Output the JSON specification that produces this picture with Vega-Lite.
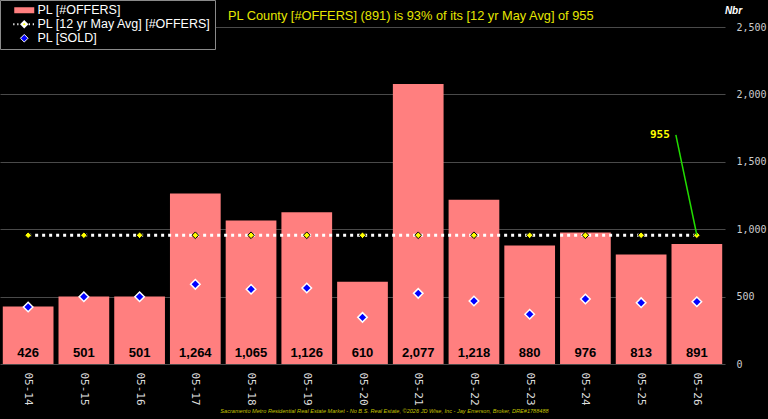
{
  "$schema": "https://vega.github.io/schema/vega-lite/v6.json",
  "width": 725,
  "height": 337,
  "autosize": {"type": "none"},
  "padding": {"left": 0, "top": 27, "right": 43, "bottom": 55},
  "background": "#000000",
  "title": {
    "text": "PL County [#OFFERS] (891) is 93% of its [12 yr May Avg] of 955",
    "anchor": "start",
    "frame": "group",
    "dx": 228,
    "dy": 29,
    "offset": 6,
    "color": "#e6e600",
    "font": "Liberation Sans",
    "fontSize": 12.8,
    "fontWeight": "normal"
  },
  "config": {
    "view": {"stroke": null},
    "axis": {"gridColor": "#4a4a4a", "gridWidth": 1},
    "axisY": {
      "grid": true,
      "domain": false,
      "ticks": false,
      "labelFont": "DejaVu Sans Mono",
      "labelFontSize": 10,
      "labelColor": "#cccccc",
      "labelPadding": 11,
      "labelAlign": "left",
      "titleAngle": 0,
      "titleX": 8,
      "titleY": -17,
      "titleAlign": "center",
      "titleBaseline": "middle",
      "titleFont": "Liberation Sans",
      "titleFontSize": 10,
      "titleFontStyle": "italic",
      "titleFontWeight": "bold",
      "titleColor": "#ffffff"
    }
  },
  "data": {
    "values": [
      {"month": "05-14", "offers": 426, "sold": 423, "avg": 955},
      {"month": "05-15", "offers": 501, "sold": 499, "avg": 955},
      {"month": "05-16", "offers": 501, "sold": 499, "avg": 955},
      {"month": "05-17", "offers": 1264, "sold": 591, "avg": 955},
      {"month": "05-18", "offers": 1065, "sold": 554, "avg": 955},
      {"month": "05-19", "offers": 1126, "sold": 564, "avg": 955},
      {"month": "05-20", "offers": 610, "sold": 346, "avg": 955},
      {"month": "05-21", "offers": 2077, "sold": 524, "avg": 955},
      {"month": "05-22", "offers": 1218, "sold": 467, "avg": 955},
      {"month": "05-23", "offers": 880, "sold": 369, "avg": 955},
      {"month": "05-24", "offers": 976, "sold": 482, "avg": 955},
      {"month": "05-25", "offers": 813, "sold": 455, "avg": 955},
      {"month": "05-26", "offers": 891, "sold": 462, "avg": 955}
    ]
  },
  "encoding": {
    "x": {
      "field": "month",
      "type": "ordinal",
      "scale": {"paddingInner": 0.09, "paddingOuter": 0.05},
      "axis": {
        "labelAngle": 90,
        "labelFont": "DejaVu Sans Mono",
        "labelFontSize": 11,
        "labelColor": "#dddddd",
        "labelPadding": 8,
        "ticks": false,
        "domain": false,
        "title": "Sacramento Metro Residential Real Estate Market - No B.S. Real Estate, ©2026 JD Wise, Inc - Jay Emerson, Broker, DRE#1788488",
        "titleFont": "Liberation Sans",
        "titleFontSize": 5.6,
        "titleFontStyle": "italic",
        "titleFontWeight": "normal",
        "titleColor": "#c4c400",
        "titleX": 384,
        "titleY": 46,
        "titleAlign": "center",
        "titleBaseline": "middle"
      }
    }
  },
  "layer": [
    {
      "mark": {"type": "bar", "color": "#ff7f7f"},
      "encoding": {
        "y": {
          "field": "offers",
          "type": "quantitative",
          "scale": {"domain": [0, 2500], "nice": false, "zero": true},
          "axis": {"orient": "right", "values": [0, 500, 1000, 1500, 2000, 2500], "format": ",.0f", "title": "Nbr"}
        },
        "color": {
          "datum": "PL [#OFFERS]",
          "scale": {
            "domain": ["PL [#OFFERS]", "PL [12 yr May Avg] [#OFFERS]", "PL [SOLD]"],
            "range": ["#ff7f7f", "#ffff00", "#0000ff"]
          },
          "legend": {
            "title": null,
            "orient": "none",
            "legendX": 0,
            "legendY": -27,
            "fillColor": "#000000",
            "strokeColor": "#8a8a8a",
            "padding": 4,
            "rowPadding": 0,
            "labelColor": "#ffffff",
            "labelFont": "Liberation Sans",
            "labelFontSize": 12.5,
            "labelOffset": 7,
            "labelLimit": 400,
            "symbolOffset": 14,
            "symbolSize": 400,
            "encode": {
              "symbols": {
                "update": {
                  "shape": {"signal": "datum.value === 'PL [#OFFERS]' ? 'M-1,-0.3H1V0.3H-1Z' : (datum.value === 'PL [SOLD]' ? 'M0,-0.38L0.38,0L0,0.38L-0.38,0Z' : 'M-1.1,0h0.12 M-0.7,0h0.12 M0,-0.28L0.28,0L0,0.28L-0.28,0Z M0.45,0h0.12 M0.85,0h0.12')"},
                  "stroke": {"signal": "datum.value === 'PL [#OFFERS]' ? '#ff7f7f' : '#ffffff'"},
                  "strokeWidth": {"signal": "datum.value === 'PL [#OFFERS]' ? 0 : (datum.value === 'PL [SOLD]' ? 1 : 2)"},
                  "size": {"value": 400},
                  "opacity": {"value": 1}
                }
              }
            }
          }
        }
      }
    },
    {
      "mark": {"type": "text", "font": "Liberation Sans", "fontSize": 13, "fontWeight": "bold", "color": "#000000", "baseline": "middle", "dy": -11},
      "encoding": {
        "y": {"datum": 0, "type": "quantitative", "scale": {"domain": [0, 2500], "nice": false, "zero": true}, "axis": {"orient": "right", "values": [0, 500, 1000, 1500, 2000, 2500], "format": ",.0f", "title": "Nbr"}},
        "text": {"field": "offers", "type": "quantitative", "format": ","}
      }
    },
    {
      "mark": {"type": "line", "color": "#ffffff", "strokeWidth": 3, "strokeDash": [3, 4], "strokeCap": "butt"},
      "encoding": {
        "y": {"field": "avg", "type": "quantitative", "scale": {"domain": [0, 2500], "nice": false, "zero": true}, "axis": {"orient": "right", "values": [0, 500, 1000, 1500, 2000, 2500], "format": ",.0f", "title": "Nbr"}}
      }
    },
    {
      "mark": {"type": "point", "shape": "diamond", "filled": true, "size": 45, "stroke": "#000000", "strokeWidth": 1, "opacity": 1},
      "encoding": {
        "y": {"field": "avg", "type": "quantitative", "scale": {"domain": [0, 2500], "nice": false, "zero": true}, "axis": {"orient": "right", "values": [0, 500, 1000, 1500, 2000, 2500], "format": ",.0f", "title": "Nbr"}},
        "color": {"datum": "PL [12 yr May Avg] [#OFFERS]"}
      }
    },
    {
      "mark": {"type": "point", "shape": "diamond", "filled": true, "size": 90, "stroke": "#ffffff", "strokeWidth": 1.5, "opacity": 1},
      "encoding": {
        "y": {"field": "sold", "type": "quantitative", "scale": {"domain": [0, 2500], "nice": false, "zero": true}, "axis": {"orient": "right", "values": [0, 500, 1000, 1500, 2000, 2500], "format": ",.0f", "title": "Nbr"}},
        "color": {"datum": "PL [SOLD]"}
      }
    },
    {
      "transform": [{"filter": "datum.month === '05-26'"}],
      "mark": {"type": "rule", "color": "#22dd00", "strokeWidth": 1.5, "xOffset": -21},
      "encoding": {
        "x": {"datum": "05-26", "type": "ordinal"},
        "x2": {"datum": "05-26"},
        "y": {"datum": 1700, "type": "quantitative", "scale": {"domain": [0, 2500], "nice": false, "zero": true}, "axis": {"orient": "right", "values": [0, 500, 1000, 1500, 2000, 2500], "format": ",.0f", "title": "Nbr"}},
        "y2": {"datum": 955}
      }
    },
    {
      "transform": [{"filter": "datum.month === '05-26'"}],
      "mark": {"type": "text", "font": "DejaVu Sans Mono", "fontSize": 11, "fontWeight": "bold", "color": "#ffff00", "align": "right", "baseline": "middle", "dx": -27},
      "encoding": {
        "y": {"datum": 1700, "type": "quantitative", "scale": {"domain": [0, 2500], "nice": false, "zero": true}, "axis": {"orient": "right", "values": [0, 500, 1000, 1500, 2000, 2500], "format": ",.0f", "title": "Nbr"}},
        "text": {"field": "avg", "type": "quantitative"}
      }
    }
  ]
}
